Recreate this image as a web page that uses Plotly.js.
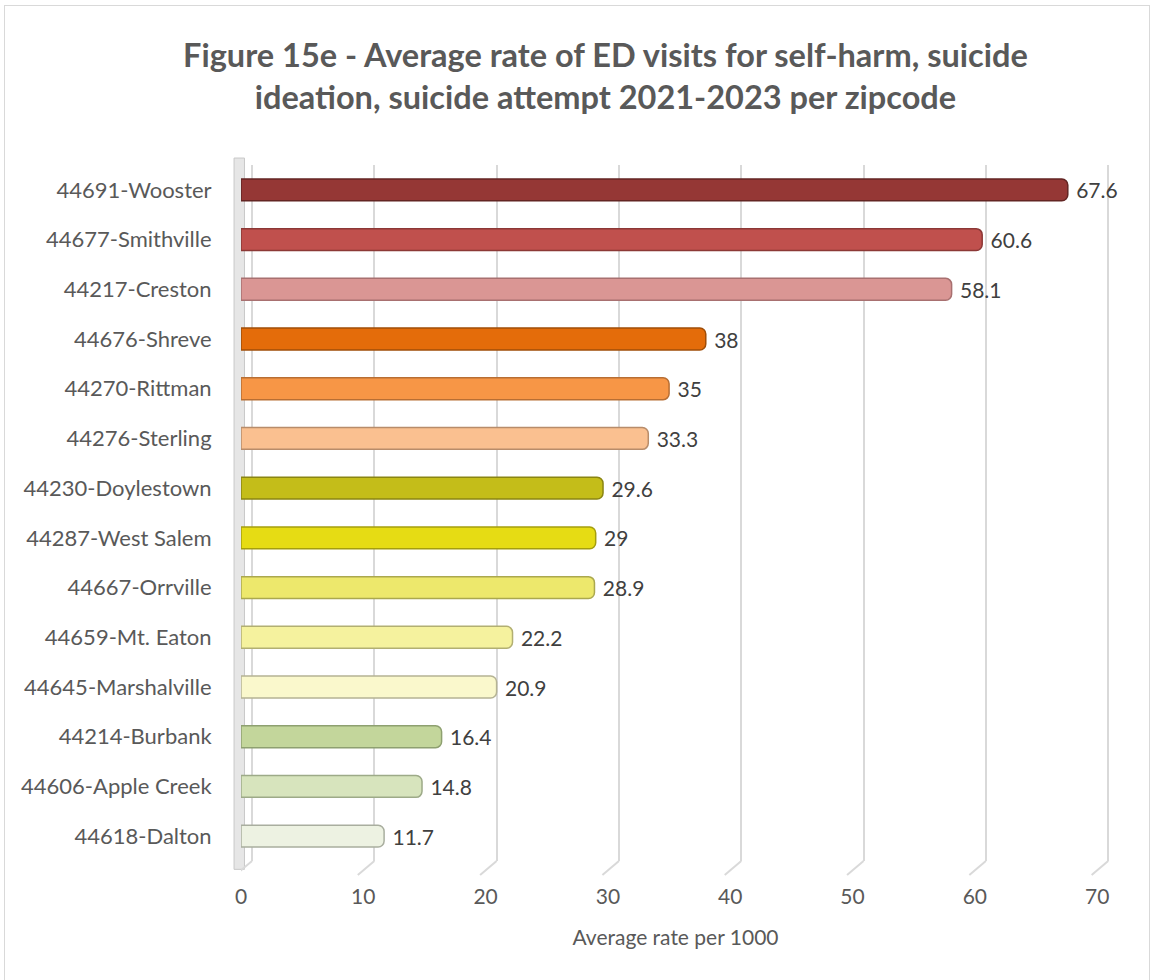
<!DOCTYPE html>
<html>
<head>
<meta charset="utf-8">
<script src="https://cdn.plot.ly/plotly-3.0.1.min.js"></script>
<style>
html,body{margin:0;padding:0;background:#fff;}
#wrap{position:relative;width:1151px;height:980px;}
#chart{width:1151px;height:980px;}
#frame{position:absolute;left:4px;top:5px;width:1146px;height:980px;border:1.5px solid #D9D9D9;box-sizing:border-box;pointer-events:none;}
</style>
</head>
<body>
<div id="wrap"><div id="chart"></div><div id="frame"></div></div>
<script>
const zipcodes = ["44691-Wooster","44677-Smithville","44217-Creston","44676-Shreve","44270-Rittman","44276-Sterling","44230-Doylestown","44287-West Salem","44667-Orrville","44659-Mt. Eaton","44645-Marshalville","44214-Burbank","44606-Apple Creek","44618-Dalton"];
const rates = [67.6,60.6,58.1,38,35,33.3,29.6,29,28.9,22.2,20.9,16.4,14.8,11.7];
const barColors = ["#953735","#C0504D","#DA9694","#E46C0A","#F79646","#FAC090","#C4BD19","#E6DC14","#EDE86C","#F5F29E","#FAF8CC","#C3D69B","#D7E4BD","#EDF2E2"];
const barEdges = ["#632523","#8C3836","#A87070","#A04E08","#B86E33","#B88C6A","#8A8512","#A59E0E","#ABA84E","#B2AF72","#B5B394","#8EA070","#9DAA88","#A9AE9F"];
const xTicks = [0,10,20,30,40,50,60,70];
const chartTitle = "Figure 15e - Average rate of ED visits for self-harm, suicide<br>ideation, suicide attempt 2021-2023 per zipcode";
const xTitle = "Average rate per 1000";

const FONT = "Lato, 'Open Sans', sans-serif";

const gridTrace = {
  type:'scatter', x:[], y:[], xaxis:'x2', yaxis:'y', showlegend:false, hoverinfo:'skip'
};
const barTrace = {
  type:'bar', orientation:'h', y:zipcodes, x:rates,
  marker:{color:barColors, line:{color:barEdges, width:1.5}, cornerradius:6},
  text:rates.map(v=>String(v)), texttemplate:' %{text}', textposition:'outside',
  constraintext:'none', cliponaxis:false,
  textfont:{family:FONT, size:21, color:'#404040'},
  hoverinfo:'skip', showlegend:false
};

const shapes = [];
// left wall
shapes.push({type:'rect', xref:'paper', yref:'paper', x0:-0.008, x1:0.004, y0:-0.012, y1:1.01, fillcolor:'#E6E6E6', line:{color:'#C8C8C8', width:1}, layer:'below'});
// slanted floor lines from back gridlines toward front labels
xTicks.forEach(v=>{
  shapes.push({type:'line', xref:'x2', yref:'paper', x0:v, x1:v-1.35, y0:0, y1:-0.02, line:{color:'#D9D9D9', width:2}, layer:'below'});
});

const layout = {
  width:1151, height:980,
  margin:{l:241, r:41, t:165, b:119},
  paper_bgcolor:'#ffffff', plot_bgcolor:'rgba(0,0,0,0)',
  font:{family:FONT, color:'#595959'},
  title:{text:chartTitle, x:0.526, xanchor:'center', y:0.932, yanchor:'middle', yref:'container',
    font:{family:FONT, size:32.5, color:'#595959', weight:'bold'}},
  bargap:0.56,
  xaxis:{range:[0,71.05], tickvals:xTicks, ticktext:xTicks.map(String), showgrid:false, zeroline:false, showline:false,
    ticks:'outside', ticklen:17, tickcolor:'rgba(0,0,0,0)',
    tickfont:{size:21, color:'#595959'},
    title:{text:xTitle, font:{size:21, color:'#595959'}, standoff:23}},
  xaxis2:{overlaying:'x', range:[-0.9,70.15], tickvals:xTicks, showticklabels:false, showgrid:true, gridcolor:'#D9D9D9', gridwidth:2, zeroline:false, showline:false},
  yaxis:{autorange:'reversed', type:'category', showgrid:false, zeroline:false, showline:false,
    ticks:'outside', ticklen:24, tickcolor:'rgba(0,0,0,0)',
    tickfont:{size:22, color:'#595959'}},
  shapes:shapes
};
Plotly.newPlot('chart',[gridTrace, barTrace],layout,{displayModeBar:false, staticPlot:true});
</script>
</body>
</html>
